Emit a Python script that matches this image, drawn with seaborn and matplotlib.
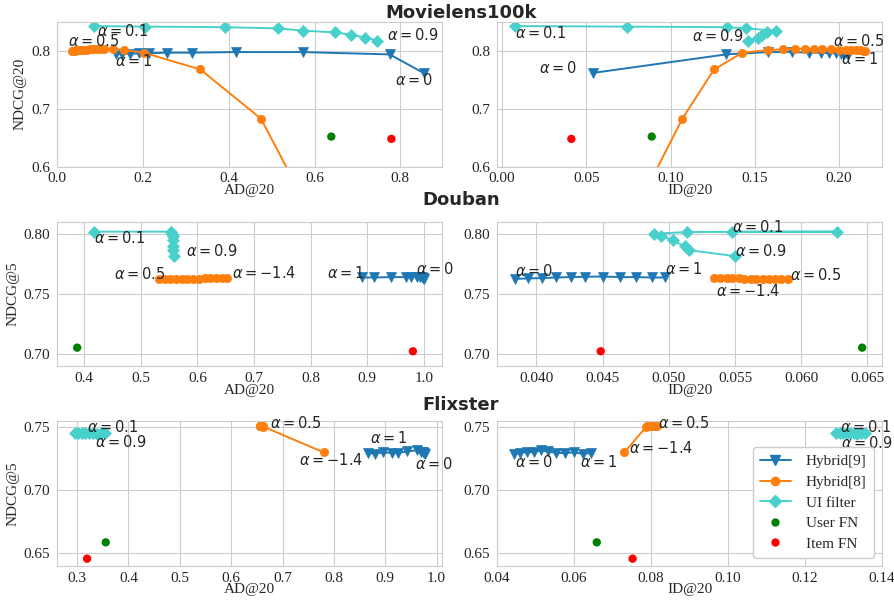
import matplotlib
matplotlib.use("Agg")
import matplotlib.pyplot as plt
from matplotlib.lines import Line2D
import seaborn as sns

# ---------------- data ----------------
# Movielens100k
ml_h9_ad = [0.854, 0.775, 0.572, 0.416, 0.315, 0.256, 0.215, 0.190, 0.170, 0.152, 0.138]
ml_h9_id = [0.054, 0.133, 0.158, 0.172, 0.182, 0.189, 0.194, 0.198, 0.201, 0.203, 0.205]
ml_h9_ndcg = [0.762, 0.794, 0.798, 0.798, 0.797, 0.797, 0.796, 0.796, 0.795, 0.795, 0.795]

ml_h8_ad = [0.035, 0.038, 0.041, 0.045, 0.050, 0.056, 0.062, 0.069, 0.076, 0.083,
            0.091, 0.099, 0.110, 0.130, 0.155, 0.202, 0.334, 0.475, 0.605, 0.700]
ml_h8_id = [0.2155, 0.2150, 0.2146, 0.2125, 0.2100, 0.2073, 0.2040, 0.2000, 0.1950, 0.1900,
            0.1850, 0.1800, 0.1740, 0.1670, 0.1580, 0.1426, 0.1258, 0.1070, 0.0750, 0.0550]
ml_h8_ndcg = [0.800, 0.800, 0.8005, 0.801, 0.801, 0.8015, 0.802, 0.802, 0.8025, 0.803,
              0.8035, 0.804, 0.8035, 0.803, 0.8015, 0.797, 0.768, 0.683, 0.500, 0.380]

ml_ui_ad = [0.086, 0.206, 0.391, 0.516, 0.573, 0.648, 0.684, 0.718, 0.746]
ml_ui_id = [0.0075, 0.0744, 0.1332, 0.1445, 0.1624, 0.1573, 0.1545, 0.1519, 0.1460]
ml_ui_ndcg = [0.843, 0.842, 0.841, 0.839, 0.835, 0.832, 0.828, 0.823, 0.818]

ml_user_fn = (0.639, 0.0888, 0.652)   # AD, ID, NDCG
ml_item_fn = (0.779, 0.0411, 0.648)

# Douban
db_h9_ad = [1.000, 0.999, 0.998, 0.996, 0.993, 0.987, 0.978, 0.968, 0.942, 0.911, 0.890]
db_h9_id = [0.0384, 0.0394, 0.0404, 0.0415, 0.0426, 0.0437, 0.0450, 0.0463, 0.0475, 0.0487, 0.0497]
db_h9_ndcg = [0.7626, 0.7629, 0.7632, 0.7637, 0.7640, 0.7643, 0.7645, 0.7640, 0.7640, 0.7637, 0.7637]

db_h8_ad = [0.532, 0.542, 0.552, 0.562, 0.572, 0.582, 0.592, 0.602, 0.613, 0.623, 0.633, 0.643, 0.653]
db_h8_id = [0.0590, 0.0585, 0.0580, 0.0576, 0.0571, 0.0566, 0.0562, 0.0557, 0.0553, 0.0548,
            0.0544, 0.0539, 0.0534]
db_h8_ndcg = [0.7625, 0.7625, 0.7626, 0.7626, 0.7627, 0.7627, 0.7628, 0.7628, 0.7629, 0.7630,
              0.7631, 0.7632, 0.7634]

db_ui_ad = [0.418, 0.553, 0.554, 0.555, 0.556, 0.556, 0.557, 0.557, 0.558]
db_ui_id = [0.0548, 0.0627, 0.0514, 0.0489, 0.0494, 0.0503, 0.0512, 0.0515, 0.0550]
db_ui_ndcg = [0.8017, 0.8017, 0.8014, 0.8000, 0.7980, 0.7945, 0.7895, 0.7864, 0.7814]

db_user_fn = (0.3876, 0.0646, 0.7055)
db_item_fn = (0.9806, 0.04486, 0.7025)

# Flixster
fx_h9_ad = [0.977, 0.975, 0.973, 0.969, 0.961, 0.943, 0.925, 0.914, 0.895, 0.880, 0.867]
fx_h9_id = [0.0443, 0.0459, 0.0478, 0.0495, 0.0513, 0.0532, 0.0554, 0.0576, 0.0599, 0.0622, 0.0645]
fx_h9_ndcg = [0.7286, 0.7292, 0.7300, 0.7297, 0.7313, 0.7305, 0.7292, 0.7292, 0.7297, 0.7286, 0.7292]

fx_h8_ad = [0.656, 0.6565, 0.657, 0.6575, 0.658, 0.6585, 0.659, 0.6595, 0.660, 0.661, 0.662, 0.780]
fx_h8_id = [0.0815, 0.0812, 0.0809, 0.0806, 0.0803, 0.0800, 0.0797, 0.0794, 0.0791, 0.0789, 0.0788, 0.0731]
fx_h8_ndcg = [0.7505, 0.7505, 0.7505, 0.7504, 0.7504, 0.7504, 0.7503, 0.7503, 0.7502, 0.7502, 0.7501, 0.7297]

fx_ui_ad = [0.295, 0.302, 0.309, 0.316, 0.323, 0.331, 0.339, 0.347, 0.355]
fx_ui_id = [0.1281, 0.1290, 0.1299, 0.1308, 0.1318, 0.1327, 0.1336, 0.1346, 0.1355]
fx_ui_ndcg = [0.7448, 0.7450, 0.7446, 0.7452, 0.7447, 0.7451, 0.7445, 0.7449, 0.7446]

fx_user_fn = (0.3558, 0.0659, 0.6587)
fx_item_fn = (0.3195, 0.0752, 0.6458)

dataset_names = ["Movielens100k", "Douban", "Flixster"]
ylabels = ["NDCG@20", "NDCG@5", "NDCG@5"]
xlabels = ["AD@20", "ID@20"]
series_names = ["Hybrid[9]", "Hybrid[8]", "UI filter", "User FN", "Item FN"]

# ---------------- style ----------------
sns.set_style("whitegrid", {"axes.edgecolor": ".8", "grid.color": ".8"})
plt.rcParams["font.family"] = ["Liberation Serif", "DejaVu Serif"]
plt.rcParams["mathtext.fontset"] = "dejavusans"

C_H9 = "#1f77b4"
C_H8 = "#ff7f0e"
C_UI = "#48d1cc"
C_UFN = "green"
C_IFN = "red"

FS = 11

datasets = [
    dict(h9=(ml_h9_ad, ml_h9_id, ml_h9_ndcg), h8=(ml_h8_ad, ml_h8_id, ml_h8_ndcg),
         ui=(ml_ui_ad, ml_ui_id, ml_ui_ndcg), ufn=ml_user_fn, ifn=ml_item_fn),
    dict(h9=(db_h9_ad, db_h9_id, db_h9_ndcg), h8=(db_h8_ad, db_h8_id, db_h8_ndcg),
         ui=(db_ui_ad, db_ui_id, db_ui_ndcg), ufn=db_user_fn, ifn=db_item_fn),
    dict(h9=(fx_h9_ad, fx_h9_id, fx_h9_ndcg), h8=(fx_h8_ad, fx_h8_id, fx_h8_ndcg),
         ui=(fx_ui_ad, fx_ui_id, fx_ui_ndcg), ufn=fx_user_fn, ifn=fx_item_fn),
]

xlims = [[(0.0, 0.897), (-0.003, 0.2255)],
         [(0.352, 1.032), (0.03703, 0.0661)],
         [(0.261, 1.0104), (0.04, 0.14)]]
ylims = [(0.6, 0.85), (0.69, 0.81), (0.640, 0.7542)]
xticks = [[[0.0, 0.2, 0.4, 0.6, 0.8], [0.00, 0.05, 0.10, 0.15, 0.20]],
          [[0.4, 0.5, 0.6, 0.7, 0.8, 0.9, 1.0], [0.040, 0.045, 0.050, 0.055, 0.060, 0.065]],
          [[0.3, 0.4, 0.5, 0.6, 0.7, 0.8, 0.9, 1.0], [0.04, 0.06, 0.08, 0.10, 0.12, 0.14]]]
xfmt = [["{:.1f}", "{:.2f}"], ["{:.1f}", "{:.3f}"], ["{:.1f}", "{:.2f}"]]
yticks = [[0.6, 0.7, 0.8], [0.70, 0.75, 0.80], [0.65, 0.70, 0.75]]
yfmt = ["{:.1f}", "{:.2f}", "{:.2f}"]

# annotations: (series, index, text, dx pt, dy pt, ha)
ann = [
    [
        [("ui", 0, r"$\alpha = 0.1$", 2.4, -3.6, "left"),
         ("h8", 0, r"$\alpha = 0.5$", -2.9, 7.0, "left"),
         ("h9", 10, r"$\alpha = 1$", -0.7, -5.3, "left"),
         ("ui", 8, r"$\alpha = 0.9$", 6.7, 3.8, "left"),
         ("h9", 0, r"$\alpha = 0$", -20.9, -5.3, "left")],
        [("ui", 0, r"$\alpha = 0.1$", 0.0, -5.3, "left"),
         ("ui", 8, r"$\alpha = 0.9$", -3.1, 3.4, "right"),
         ("h9", 0, r"$\alpha = 0$", -11.3, 3.4, "right"),
         ("h8", 0, r"$\alpha = 0.5$", -23.3, 7.0, "left"),
         ("h9", 10, r"$\alpha = 1$", -4.8, -3.6, "left")],
    ],
    [
        [("ui", 0, r"$\alpha = 0.1$", 0.0, -4.3, "left"),
         ("ui", 8, r"$\alpha = 0.9$", 8.6, 3.4, "left"),
         ("h8", 0, r"$\alpha = 0.5$", -32.6, 3.6, "left"),
         ("h8", 12, r"$\alpha = -1.4$", 3.6, 3.6, "left"),
         ("h9", 10, r"$\alpha = 1$", -25.2, 3.1, "left"),
         ("h9", 0, r"$\alpha = 0$", -6.0, 6.7, "left")],
        [("h9", 0, r"$\alpha = 0$", 0.0, 5.5, "left"),
         ("h9", 10, r"$\alpha = 1$", 0.0, 5.8, "left"),
         ("ui", 0, r"$\alpha = 0.1$", 0.0, 3.6, "left"),
         ("ui", 8, r"$\alpha = 0.9$", 0.0, 3.4, "left"),
         ("h8", 0, r"$\alpha = 0.5$", 1.7, 3.1, "left"),
         ("h8", 12, r"$\alpha = -1.4$", 1.7, -9.6, "left")],
    ],
    [
        [("ui", 0, r"$\alpha = 0.1$", 8.9, 4.8, "left"),
         ("ui", 8, r"$\alpha = 0.9$", -7.4, -6.0, "left"),
         ("h8", 0, r"$\alpha = 0.5$", 7.2, 2.4, "left"),
         ("h8", 11, r"$\alpha = -1.4$", -18.0, -5.8, "left"),
         ("h9", 10, r"$\alpha = 1$", 1.2, 11.0, "left"),
         ("h9", 0, r"$\alpha = 0$", -7.2, -7.2, "left")],
        [("h9", 0, r"$\alpha = 0$", 0.7, -6.2, "left"),
         ("h9", 10, r"$\alpha = 1$", -7.9, -6.7, "left"),
         ("h8", 0, r"$\alpha = 0.5$", 1.2, 2.4, "left"),
         ("h8", 11, r"$\alpha = -1.4$", 2.9, 2.9, "left"),
         ("ui", 0, r"$\alpha = 0.1$", 2.4, 4.6, "left"),
         ("ui", 8, r"$\alpha = 0.9$", -16.8, -6.5, "left")],
    ],
]

styles = {
    "h9": dict(color=C_H9, marker="v", markersize=6.5),
    "h8": dict(color=C_H8, marker="o", markersize=6),
    "ui": dict(color=C_UI, marker="D", markersize=6),
}

fig, axes = plt.subplots(3, 2, figsize=(8.94, 6.04), dpi=100)
fig.subplots_adjust(left=0.0638, right=0.9866, top=0.9636, bottom=0.0629,
                    wspace=0.143, hspace=0.38)

for r, ds in enumerate(datasets):
    for c in range(2):
        ax = axes[r, c]
        for key in ["h9", "h8", "ui"]:
            xs = ds[key][c]
            ys = ds[key][2]
            st = styles[key]
            sns.lineplot(x=xs, y=ys, ax=ax, sort=False, estimator=None,
                         color=st["color"], marker=st["marker"],
                         markersize=st["markersize"], markeredgecolor=st["color"],
                         markeredgewidth=0.5, linewidth=1.4)
        sns.scatterplot(x=[ds["ufn"][c]], y=[ds["ufn"][2]], ax=ax, color=C_UFN,
                        s=36, edgecolor="none", zorder=3)
        sns.scatterplot(x=[ds["ifn"][c]], y=[ds["ifn"][2]], ax=ax, color=C_IFN,
                        s=36, edgecolor="none", zorder=3)

        for key, idx, txt, dx, dy, ha in ann[r][c]:
            px = ds[key][c][idx]
            py = ds[key][2][idx]
            ax.annotate(txt, xy=(px, py), xytext=(dx, dy), textcoords="offset points",
                        ha=ha, va="center", fontsize=10.5, color="#262626",
                        family="DejaVu Sans")

        ax.set_xlim(*xlims[r][c])
        ax.set_ylim(*ylims[r])
        ax.set_xticks(xticks[r][c])
        ax.set_xticklabels([xfmt[r][c].format(v) for v in xticks[r][c]], fontsize=FS)
        ax.set_yticks(yticks[r])
        ax.set_yticklabels([yfmt[r].format(v) for v in yticks[r]], fontsize=FS)
        ax.set_xlabel(xlabels[c], fontsize=FS, labelpad=-1)
        ax.set_ylabel(ylabels[r] if c == 0 else "", fontsize=FS, labelpad=3)
        ax.tick_params(axis="x", pad=0.5)
        ax.tick_params(axis="y", pad=1.5)
        if ax.get_legend() is not None:
            ax.get_legend().remove()

title_y = [1 - 13 / 604, 1 - 200 / 604, 1 - 405 / 604]
for r, name in enumerate(dataset_names):
    fig.text(461 / 894, title_y[r], name, ha="center", va="center", fontsize=13,
             fontweight="bold", family="DejaVu Sans", color="#262626")

handles = [
    Line2D([], [], color=C_H9, marker="v", markersize=6.5, markeredgecolor=C_H9, linewidth=1.4),
    Line2D([], [], color=C_H8, marker="o", markersize=6, markeredgecolor=C_H8, linewidth=1.4),
    Line2D([], [], color=C_UI, marker="D", markersize=6, markeredgecolor=C_UI, linewidth=1.4),
    Line2D([], [], color=C_UFN, marker="o", markersize=6, linestyle="none", markeredgecolor="none"),
    Line2D([], [], color=C_IFN, marker="o", markersize=6, linestyle="none", markeredgecolor="none"),
]
leg = axes[2, 1].legend(handles, series_names, loc="lower right", fontsize=FS,
                        frameon=True, facecolor="white", edgecolor=".8", framealpha=1.0,
                        labelspacing=0.45, borderpad=0.5, handletextpad=1.0)

fig.savefig("out.png", dpi=100)
